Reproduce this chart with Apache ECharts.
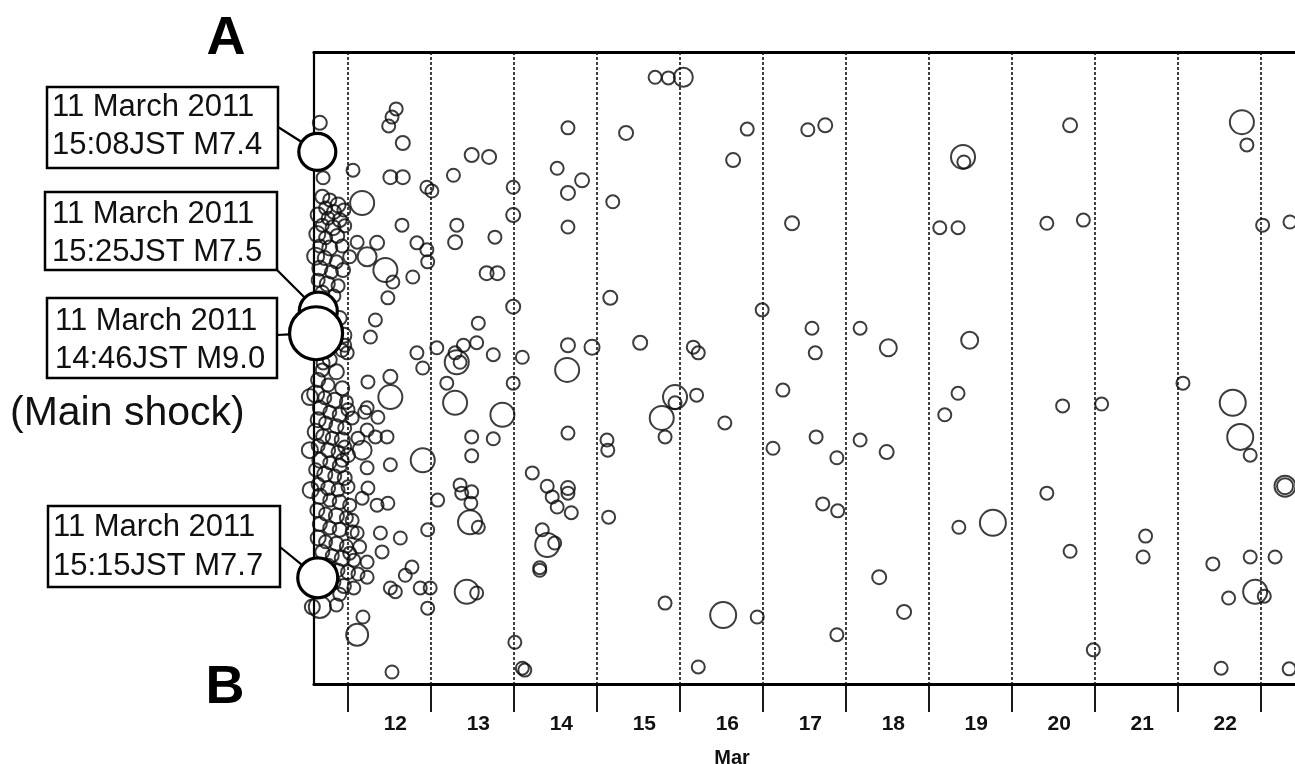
<!DOCTYPE html>
<html>
<head>
<meta charset="utf-8">
<script src="https://cdn.jsdelivr.net/npm/echarts@6/dist/echarts.min.js"></script>
<style>
html,body{margin:0;padding:0;background:#fff;}
#c{width:1295px;height:764px;}
</style>
</head>
<body>
<div id="c"></div>
<script>
// ---------------- DATA ----------------
// x: day of March 2011 (12.0 = 12 March 00:00 JST); y: relative position along profile A (0) -> B (100)
const dayBoundaries = [12, 13, 14, 15, 16, 17, 18, 19, 20, 21, 22, 23];
const dayLabels = ['12', '13', '14', '15', '16', '17', '18', '19', '20', '21', '22'];
const axisName = 'Mar';

// the four largest events of 11 March 2011
const largeDates = ['11 March 2011', '11 March 2011', '11 March 2011', '11 March 2011'];
const largeTimes = ['15:08JST', '15:15JST', '15:25JST', '14:46JST'];
const largeDays  = [11.630, 11.635, 11.642, 11.615];
const largePos   = [15.8, 83.2, 41.0, 44.5];
const largeMags  = [7.4, 7.7, 7.5, 9.0];
const mainShockNote = '(Main shock)';

// aftershocks: [day, position, magnitude]
const aftershocks = [
 [11.66,11.2,5.1],[11.70,19.9,5.0],
 [11.69,22.9,5.1],[11.78,23.4,5.0],[11.88,24.2,5.2],[11.73,24.7,5.0],[11.83,25.3,5.1],[11.95,25.0,5.0],[11.64,25.8,5.2],[11.76,26.3,5.0],[11.90,26.6,5.1],[11.69,27.4,5.0],[11.82,27.8,5.2],[11.96,27.5,5.0],[11.63,28.8,5.3],[11.73,29.4,5.0],[11.87,29.1,5.1],[11.66,30.7,5.0],[11.78,31.0,5.2],[11.93,30.7,5.0],[11.61,32.3,5.4],[11.72,32.6,5.1],[11.86,33.2,5.0],[11.66,34.2,5.2],[11.80,34.8,5.0],[11.94,34.5,5.1],[11.64,36.1,5.0],[11.75,36.7,5.2],[11.88,37.0,5.0],[11.69,38.1,5.1],[11.83,38.6,5.0],
 [11.90,42.1,5.1],[11.95,44.8,5.2],[11.93,47.2,5.0],[11.78,48.7,5.1],[11.69,50.3,5.0],[11.86,50.6,5.2],[11.64,51.9,5.1],[11.76,52.7,5.0],[11.93,53.2,5.1],[11.61,54.1,5.4],[11.72,54.7,5.0],[11.84,55.1,5.2],[11.98,55.4,5.0],[11.66,56.3,5.1],[11.78,57.0,5.0],[11.90,57.4,5.1],[12.05,57.9,5.0],
 [11.64,58.2,5.2],[11.73,58.7,5.0],[11.86,59.2,5.1],[11.96,59.5,5.0],[11.61,60.1,5.3],[11.70,60.8,5.1],[11.81,61.1,5.0],[11.93,61.4,5.2],[11.64,62.3,5.0],[11.76,63.0,5.1],[11.88,63.3,5.0],[12.00,63.8,5.1],[11.66,64.6,5.2],[11.78,65.0,5.0],[11.90,65.5,5.1],[11.61,66.1,5.0],[11.72,66.8,5.2],[11.84,67.1,5.0],[11.96,67.4,5.1],[11.64,68.4,5.0],[11.76,69.0,5.1],[11.88,69.3,5.0],[11.66,70.3,5.2],[11.78,70.9,5.0],[11.90,71.2,5.1],[12.02,71.7,5.0],[11.63,72.5,5.1],[11.73,73.1,5.0],[11.86,73.4,5.2],[11.98,73.7,5.0],[11.66,74.7,5.1],[11.78,75.3,5.0],[11.90,75.6,5.1],[12.05,75.9,5.0],[11.64,76.9,5.2],[11.73,77.5,5.0],[11.86,77.8,5.1],[11.98,78.2,5.0],[11.69,79.1,5.1],[11.81,79.7,5.0],[11.93,80.1,5.2],[12.07,80.4,5.0],[11.76,81.3,5.1],[11.88,82.0,5.0],[12.00,82.3,5.1],[12.12,82.6,5.0],[11.83,83.9,5.0],[11.95,84.5,5.1],[12.07,84.8,5.0],[11.90,85.8,5.0],
 [11.54,54.6,5.3],[11.54,63.0,5.3],[11.55,69.3,5.3],[11.57,87.8,5.2],
 [11.86,87.5,5.0],[11.66,87.8,5.9],[11.96,46.4,5.0],[11.99,47.6,5.0],[11.70,49.2,5.0],[11.93,64.6,5.0],[11.96,62.5,5.0],[12.00,68.8,5.0],
 [12.00,56.6,5.0],[12.23,56.3,5.0],[12.36,57.8,5.0],[12.23,59.8,5.0],[12.33,60.9,5.0],[12.12,61.1,5.0],[12.11,76.1,5.0],[12.14,78.3,5.0],[12.23,80.7,5.0],[12.23,83.1,5.0],[12.02,79.3,5.0],[12.05,74.1,5.0],
 [12.58,9.0,5.0],[12.53,10.3,5.0],[12.49,11.7,5.0],[12.66,14.4,5.1],[12.06,18.7,5.0],[12.51,19.8,5.1],[12.66,19.8,5.1],[12.95,21.4,5.0],[13.01,22.0,5.0],[12.17,23.9,6.1],[12.65,27.4,5.0],[12.83,30.2,5.0],[12.95,31.3,5.0],[12.96,33.2,5.0],[12.11,30.1,5.0],[12.35,30.2,5.1],[12.02,32.4,5.0],[12.23,32.4,5.6],[12.45,34.5,6.1],[12.54,36.4,5.0],[12.78,35.6,5.0],[12.48,38.9,5.0],[12.33,42.4,5.0],[12.27,45.1,5.0],[12.83,47.6,5.0],[13.07,46.8,5.0],[13.29,47.6,5.0],
 [12.24,52.2,5.0],[12.51,51.4,5.1],[12.51,54.6,6.1],[12.20,57.0,5.0],[12.47,60.9,5.0],[12.17,63.0,5.6],[12.23,65.8,5.0],[12.51,65.3,5.0],[12.24,69.0,5.0],[12.17,70.6,5.0],[12.35,71.7,5.0],[12.48,71.4,5.0],[12.39,76.1,5.0],[12.63,76.9,5.0],[12.41,79.1,5.0],[12.77,81.5,5.0],[12.69,82.8,5.0],[12.51,84.8,5.0],[12.57,85.4,5.0],[12.87,84.8,5.0],[12.99,84.8,5.0],[12.96,88.0,5.0],[12.96,75.6,5.0],[12.90,64.6,6.1],[13.08,70.9,5.0],[12.18,89.4,5.0],[12.11,92.2,5.9],[12.53,98.1,5.0],
 [13.27,19.5,5.0],[13.49,16.3,5.1],[13.70,16.6,5.1],[13.99,21.4,5.0],[13.99,25.8,5.1],[13.31,27.4,5.0],[13.29,30.1,5.1],[13.77,29.3,5.0],[13.67,35.0,5.1],[13.80,35.0,5.1],[13.99,40.3,5.1],[13.57,42.9,5.0],[13.39,46.4,5.0],[13.55,46.0,5.0],[13.75,47.9,5.0],[13.31,49.1,6.1],[13.35,49.1,5.0],[12.90,50.0,5.0],[13.19,52.4,5.0],[14.10,48.3,5.0],[13.99,52.4,5.0],[13.29,55.5,6.1],[13.86,57.4,6.1],[13.49,60.9,5.0],[13.75,61.2,5.0],[13.49,63.9,5.0],[13.35,68.5,5.0],[13.49,69.6,5.0],[13.37,69.8,5.0],[13.48,71.4,5.0],[13.47,74.4,6.1],[13.57,75.2,5.0],[13.43,85.4,6.1],[13.55,85.6,5.0],[14.01,93.4,5.0],[14.10,97.5,5.0],[14.13,97.8,5.0],
 [14.65,12.0,5.0],[14.52,18.4,5.0],[14.82,20.3,5.1],[14.65,22.3,5.1],[14.65,27.7,5.0],[15.19,23.7,5.0],[15.35,12.8,5.1],[15.16,38.9,5.1],[14.65,46.4,5.1],[14.64,50.3,6.1],[14.94,46.7,5.2],[15.52,46.0,5.1],[14.65,60.3,5.0],[14.22,66.6,5.0],[14.40,68.7,5.0],[14.46,70.4,5.0],[14.65,69.0,5.1],[14.65,69.8,5.0],[14.52,72.0,5.0],[14.69,72.9,5.0],[14.34,75.6,5.0],[14.40,78.0,6.1],[14.49,77.7,5.0],[14.31,81.6,5.0],[14.31,82.0,5.0],[15.12,61.4,5.0],[15.13,63.0,5.0],[15.14,73.6,5.0],
 [15.70,4.0,5.0],[15.86,4.1,5.0],[16.04,4.0,5.6],[16.16,46.7,5.0],[16.22,47.6,5.0],[15.94,54.6,6.1],[15.94,55.5,5.0],[15.78,57.9,6.1],[15.82,60.9,5.0],[16.20,54.3,5.0],[16.54,58.7,5.0],[15.82,87.2,5.0],[16.52,89.1,6.3],[16.93,89.4,5.0],[16.22,97.3,5.0],[16.81,12.2,5.0],[16.64,17.1,5.1],[16.99,40.8,5.0],[17.24,53.5,5.0],[17.12,62.7,5.0],
 [17.54,12.3,5.0],[17.75,11.6,5.1],[17.35,27.1,5.1],[17.59,43.7,5.0],[17.63,47.6,5.0],[17.64,60.9,5.0],[17.89,64.2,5.0],[17.72,71.5,5.0],[17.90,72.6,5.0],[17.89,92.2,5.0],[18.17,43.7,5.0],[18.51,46.8,5.4],[18.17,61.4,5.0],[18.49,63.3,5.1],[18.40,83.1,5.1],[18.70,88.6,5.1],
 [19.41,16.6,6.1],[19.42,17.4,5.0],[19.13,27.8,5.0],[19.35,27.8,5.0],[19.49,45.6,5.4],[19.19,57.4,5.0],[19.35,54.0,5.0],[19.36,75.2,5.0],[19.77,74.5,6.3],
 [20.70,11.6,5.1],[20.42,27.1,5.0],[20.86,26.6,5.0],[20.61,56.0,5.0],[21.08,55.7,5.0],[20.42,69.8,5.0],[20.70,79.0,5.0],[20.98,94.6,5.0],
 [21.61,76.6,5.0],[21.58,79.9,5.0],[22.06,52.4,5.0],
 [22.77,11.1,6.1],[22.83,14.7,5.0],[23.02,27.4,5.0],[23.35,26.9,5.0],[22.66,55.5,6.3],[22.75,60.9,6.3],[22.87,63.8,5.0],[23.29,68.7,5.8],[23.29,68.7,5.3],[22.42,81.0,5.0],[22.87,79.9,5.0],[23.17,79.9,5.0],[22.61,86.4,5.0],[22.93,85.4,6.1],[23.04,86.1,5.0],[22.52,97.5,5.0],[23.34,97.6,5.0]
];

// ---------------- CHART ----------------
const X_MIN = 11.59, X_MAX = 23.41;
const LABEL_SHIFT = 0.57;
const symSize = m => 13 + 10 * (m - 5);
const labelValues = dayLabels.map(l => Number(l) + LABEL_SHIFT);
const FONT = '"Liberation Sans", Arial, Helvetica, sans-serif';

const chart = echarts.init(document.getElementById('c'));

const option = {
  animation: false,
  backgroundColor: '#fff',
  grid: { left: 314, right: 0, top: 52, bottom: 80, containLabel: false, outerBoundsMode: 'none' },
  xAxis: [
    {
      type: 'value', min: X_MIN, max: X_MAX, position: 'bottom',
      axisLine: { show: true, onZero: false, lineStyle: { color: '#000', width: 3.2 } },
      axisTick: { show: true, customValues: dayBoundaries, length: 28, inside: false, lineStyle: { color: '#000', width: 1.8 } },
      axisLabel: {
        show: true, customValues: labelValues, margin: 30,
        formatter: v => { const i = labelValues.findIndex(t => Math.abs(t - v) < 1e-6); return i >= 0 ? dayLabels[i] : ''; },
        fontSize: 21, fontWeight: 'bold', color: '#111', fontFamily: FONT
      },
      splitLine: { show: false }
    },
    {
      type: 'value', min: X_MIN, max: X_MAX, position: 'top',
      axisLine: { show: true, onZero: false, lineStyle: { color: '#000', width: 3.2 } },
      axisTick: { show: false }, axisLabel: { show: false }, splitLine: { show: false }
    }
  ],
  yAxis: {
    type: 'value', min: 0, max: 100, inverse: true,
    axisLine: { show: true, onZero: false, lineStyle: { color: '#000', width: 2.2 } },
    axisTick: { show: false }, axisLabel: { show: false }, splitLine: { show: false }
  },
  series: [
    {
      name: 'aftershocks', type: 'scatter', clip: false, silent: true,
      data: aftershocks,
      symbol: 'circle',
      symbolSize: v => symSize(v[2]),
      itemStyle: { color: 'rgba(255,255,255,0)', borderColor: '#0d0d0d', borderWidth: 2 },
      markLine: {
        silent: true, symbol: ['none', 'none'], label: { show: false }, z: 1,
        lineStyle: { type: [3, 2], color: '#111', width: 1.6 },
        emphasis: { disabled: true },
        data: dayBoundaries.map(d => ({ xAxis: d }))
      },
      z: 3
    },
    {
      name: 'large', type: 'scatter', clip: false, silent: true,
      data: largeDays.map((d, i) => [d, largePos[i], largeMags[i]]),
      symbol: 'circle',
      symbolSize: v => symSize(v[2]),
      itemStyle: { color: '#fff', borderColor: '#000', borderWidth: 3.2, opacity: 1 },
      z: 5
    }
  ]
};
chart.setOption(option);

// ---------------- ANNOTATIONS ----------------
// box layout per large event (same order as largeDays)
const boxLayout = [
  { x: 47, y: 87, w: 231, h: 81, tx: 52, ty: 88, lh: 38.5, ax: 278, ay: 127 },
  { x: 48, y: 506, w: 232, h: 81, tx: 53, ty: 508, lh: 39, ax: 280, ay: 547 },
  { x: 45, y: 192, w: 232, h: 78, tx: 52, ty: 195, lh: 38, ax: 275, ay: 268 },
  { x: 47, y: 298, w: 230, h: 80, tx: 55, ty: 302, lh: 38, ax: 277, ay: 335 }
];
const elements = [];
largeDays.forEach((d, i) => {
  const b = boxLayout[i];
  const c = chart.convertToPixel({ xAxisIndex: 0, yAxisIndex: 0 }, [d, largePos[i]]);
  const r = symSize(largeMags[i]) / 2;
  const dx = c[0] - b.ax, dy = c[1] - b.ay, len = Math.hypot(dx, dy) || 1;
  elements.push({
    type: 'line', z: 1, silent: true,
    shape: { x1: b.ax, y1: b.ay, x2: c[0] - dx / len * r, y2: c[1] - dy / len * r },
    style: { stroke: '#000', lineWidth: 2.2 }
  });
  elements.push({
    type: 'rect', z: 10, silent: true,
    shape: { x: b.x, y: b.y, width: b.w, height: b.h },
    style: { fill: '#fff', stroke: '#000', lineWidth: 2.5 }
  });
  elements.push({
    type: 'text', z: 11, silent: true, x: b.tx, y: b.ty,
    style: {
      text: largeDates[i] + '\n' + largeTimes[i] + ' M' + largeMags[i].toFixed(1),
      fontSize: 31, fontFamily: FONT, fill: '#111', lineHeight: b.lh,
      align: 'left', verticalAlign: 'top'
    }
  });
});
elements.push({
  type: 'text', z: 11, silent: true, x: 10, y: 414,
  style: { text: mainShockNote, fontSize: 41, fontFamily: FONT, fill: '#111', align: 'left', verticalAlign: 'middle' }
});
elements.push({
  type: 'text', z: 11, silent: true, x: 226, y: 39,
  style: { text: 'A', fontSize: 54, fontWeight: 'bold', fontFamily: FONT, fill: '#000', align: 'center', verticalAlign: 'middle' }
});
elements.push({
  type: 'text', z: 11, silent: true, x: 225, y: 688,
  style: { text: 'B', fontSize: 54, fontWeight: 'bold', fontFamily: FONT, fill: '#000', align: 'center', verticalAlign: 'middle' }
});
elements.push({
  type: 'text', z: 11, silent: true, x: 732, y: 748,
  style: { text: axisName, fontSize: 20, fontWeight: 'bold', fontFamily: FONT, fill: '#111', align: 'center', verticalAlign: 'top' }
});
chart.setOption({ graphic: elements });
</script>
</body>
</html>
